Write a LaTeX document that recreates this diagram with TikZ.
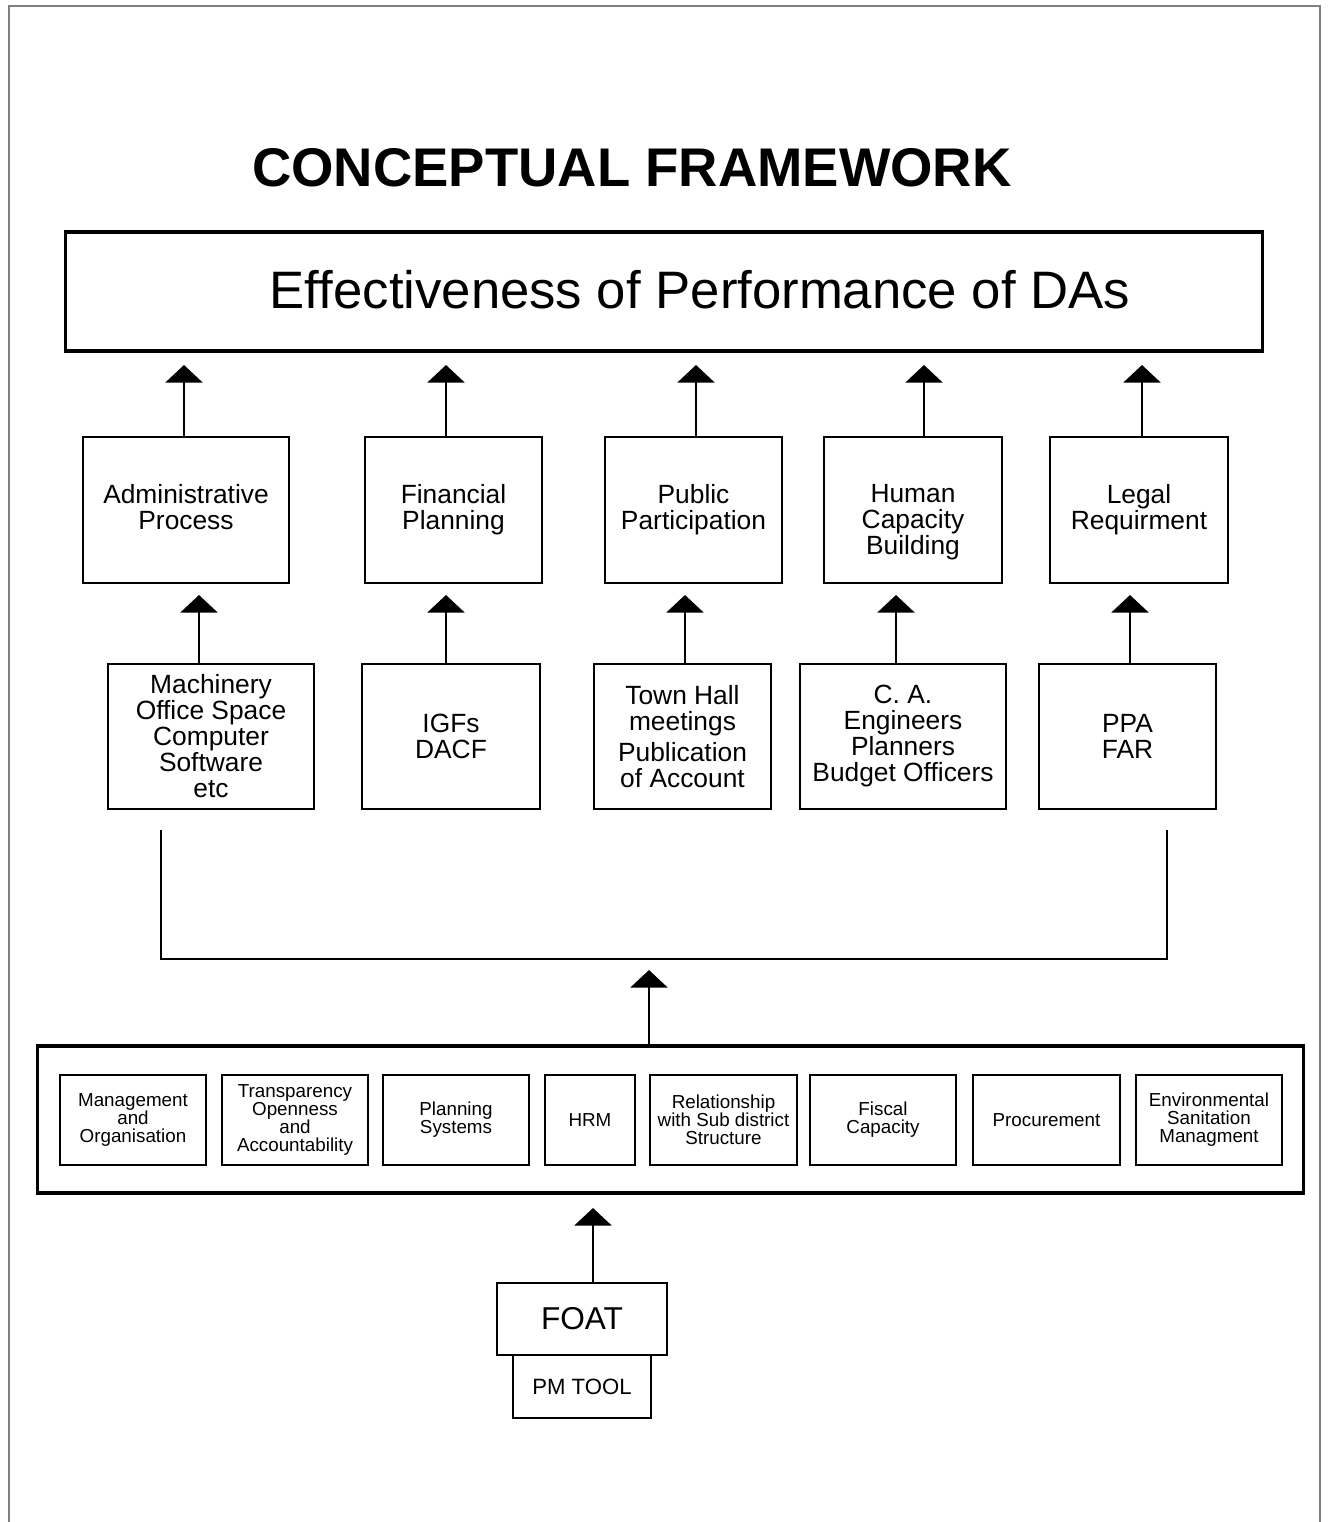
\documentclass[tikz,border=0pt]{standalone}
\usepackage{fontspec}
\setmainfont{Liberation Sans}
\usepackage{tikz}
\usetikzlibrary{arrows.meta, positioning, calc}

\begin{document}
\begin{tikzpicture}[x=0.02cm, y=-0.02cm,
  every node/.style={inner sep=0pt},
  goalbox/.style={draw, line width=1.8pt, minimum width=23.96cm, minimum height=2.38cm},
  areabox/.style={draw, line width=1.8pt, minimum width=25.34cm, minimum height=2.94cm},
  rowbox/.style={draw, line width=1.3pt},
  rowtxt/.style={align=center, font=\fontsize{15}{14.8}\selectfont},
  smallbox/.style={draw, line width=1.1pt, minimum height=1.8cm, align=center, font=\fontsize{10.7}{10.2}\selectfont},
  toolbox/.style={draw, line width=1.3pt, outer sep=0pt},
  uparrow/.style={line width=1.6pt, -{Triangle[width=21pt, length=10pt]}},
  link/.style={line width=1.6pt}
]
  % Page frame
  \useasboundingbox (0,0) rectangle (1328,1522);
  \draw[gray, line width=1.2pt] (9,1522) -- (9,6) -- (1320,6) -- (1320,1522);

  % Title
  \node[font=\fontsize{31}{36}\selectfont\bfseries] (title) at (632,168) {CONCEPTUAL FRAMEWORK};

  % Goal box
  \node[goalbox] (goal) at (664,291.5) {};
  \node[font=\fontsize{30}{36}\selectfont] (goaltxt) at (700,290) {Effectiveness of Performance of DAs};

  % Performance areas (row 1)
  \foreach \n/\xa/\xb/\ax/\txt in {1/83/289/184/{Administrative\\Process},
      2/365/542/446/{Financial\\Planning},
      3/605/782/696/{Public\\Participation},
      4/824/1002/924/{Human\\Capacity\\Building},
      5/1050/1228/1142/{Legal\\Requirment}} {
    \node[rowbox, minimum width={(\xb-\xa)*0.02cm}, minimum height=2.92cm] (p\n) at ({(\xa+\xb)/2},510) {};
    \node[rowtxt, anchor=north] (pt\n) at ($(p\n.north)+(0,48)$) {\txt};
    \coordinate (pa\n) at (\ax,365);
    \draw[uparrow] (pa\n |- p\n.north) -- (pa\n);
  }

  % Inputs (row 2)
  \foreach \n/\xa/\xb/\ax/\txt in {1/108/314/199/{Machinery\\Office Space\\Computer\\Software\\etc},
      2/362/540/446/{IGFs\\DACF},
      3/594/771/685/{Town Hall\\meetings\\[3pt]Publication\\of Account},
      4/800/1006/896/{C. A.\\Engineers\\Planners\\Budget Officers},
      5/1039/1216/1130/{PPA\\FAR}} {
    \node[rowbox, rowtxt, minimum width={(\xb-\xa)*0.02cm}, minimum height=2.9cm] (r\n) at ({(\xa+\xb)/2},736.5) {\txt};
    \coordinate (ra\n) at (\ax,595);
    \draw[uparrow] (ra\n |- r\n.north) -- (ra\n);
  }

  % Bracket
  \coordinate (bl) at (161,830);
  \coordinate (br) at (1167,830);
  \coordinate (bm) at (649,959);
  \draw[link] (bl) |- (bm) -| (br);

  % Assessment areas
  \node[areabox] (areas) at (670.5,1119.5) {};
  \coordinate (up) at (649,970);
  \draw[uparrow] (up |- areas.north) -- (up);
  \foreach \n/\xa/\xb/\txt in {1/60/206/{Management\\and\\Organisation},
      2/222/368/{Transparency\\Openness\\and\\Accountability},
      3/383/529/{Planning\\Systems},
      4/545/635/{HRM},
      5/650/797/{Relationship\\with Sub district\\Structure},
      6/810/956/{Fiscal\\Capacity},
      7/973/1120/{Procurement},
      8/1136/1282/{Environmental\\Sanitation\\Managment}} {
    \node[smallbox, minimum width={(\xb-\xa)*0.02cm}] (b\n) at ({(\xa+\xb)/2},1120) {\txt};
  }

  % FOAT
  \node[toolbox, minimum width=3.4cm, minimum height=1.44cm, font=\fontsize{18}{20}\selectfont] (foat) at (582,1319) {FOAT};
  \node[toolbox, minimum width=2.76cm, minimum height=1.26cm, font=\fontsize{12.6}{14}\selectfont, below=0pt of foat] (pmtool) {PM TOOL};
  \coordinate (fa) at (593,1208);
  \draw[uparrow] (fa |- foat.north) -- (fa);
\end{tikzpicture}
\end{document}
